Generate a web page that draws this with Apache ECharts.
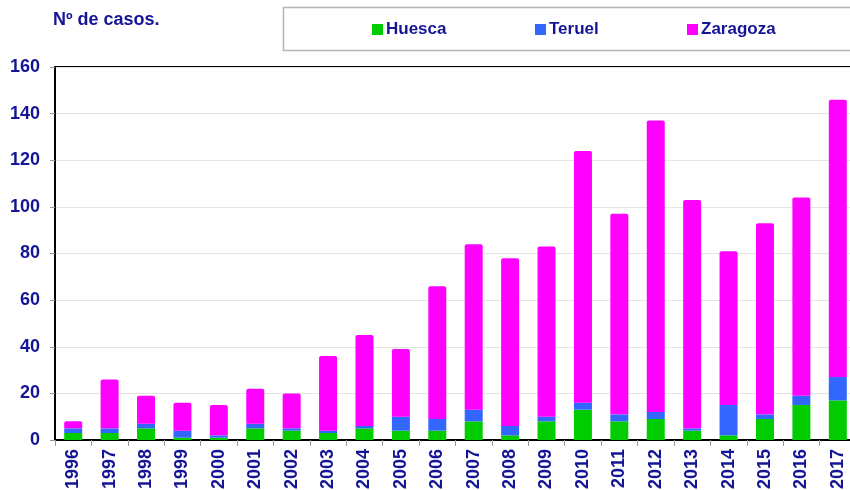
<!DOCTYPE html>
<html>
<head>
<meta charset="utf-8">
<script src="https://cdn.jsdelivr.net/npm/echarts@6/dist/echarts.min.js"></script>
<style>html,body{margin:0;padding:0;background:#fff}#c{width:850px;height:490px}</style>
</head>
<body>
<div id="c"></div>
<script>
var years = ['1996','1997','1998','1999','2000','2001','2002','2003','2004','2005','2006','2007','2008','2009','2010','2011','2012','2013','2014','2015','2016','2017'];
var huesca = [3,3,5,1,1,5,4,3,5,4,4,8,2,8,13,8,9,4,2,9,15,17];
var teruel = [2,2,2,3,1,2,1,1,1,6,5,5,4,2,3,3,3,1,13,2,4,10];
var zaragoza = [3,21,12,12,13,15,15,32,39,29,57,71,72,73,108,86,125,98,66,82,85,119];
var yTicks = [0,20,40,60,80,100,120,140,160];

var navy = '#141496';
var font = 'Liberation Sans, Arial, sans-serif';
var chart = echarts.init(document.getElementById('c'));

function leg(name, left) {
  return {
    data: [name], left: left, top: 21, padding: 0, itemWidth: 11, itemHeight: 11, icon: 'rect',
    selectedMode: false,
    textStyle: {color: navy, fontWeight: 'bold', fontSize: 17, fontFamily: font, padding: [0,0,0,-2]}
  };
}

chart.setOption({
  animation: false,
  title: {text: 'Nº de casos.', left: 53, top: 11, padding: 0,
    textStyle: {color: navy, fontWeight: 'bold', fontSize: 18, fontFamily: font}},
  legend: [leg('Huesca', 372), leg('Teruel', 535), leg('Zaragoza', 687)],
  graphic: [{type: 'rect', shape: {x: 283.5, y: 7.5, width: 620, height: 43},
    style: {fill: 'none', stroke: '#b4b4b4', lineWidth: 1.5}, silent: true}],
  grid: {left: 55, top: 67, width: 801, height: 373, outerBoundsMode: 'none', containLabel: false,
    show: true, borderColor: '#000', borderWidth: 2},
  xAxis: {
    type: 'category', data: years,
    axisLine: {lineStyle: {color: '#000', width: 2}},
    axisTick: {show: true, length: 6, lineStyle: {color: '#999'}},
    axisLabel: {rotate: 90, color: navy, fontWeight: 'bold', fontSize: 18, fontFamily: font, margin: 9, interval: 0}
  },
  yAxis: {
    type: 'value', min: yTicks[0], max: yTicks[yTicks.length-1], interval: 20,
    axisLine: {show: true, lineStyle: {color: '#000', width: 2}},
    axisTick: {show: true, length: 5, lineStyle: {color: '#999'}},
    splitLine: {lineStyle: {color: '#e4e4e4', width: 1}},
    axisLabel: {color: navy, fontWeight: 'bold', fontSize: 18, fontFamily: font, margin: 15}
  },
  series: [
    {name: 'Huesca', type: 'bar', stack: 't', data: huesca, barWidth: 18, itemStyle: {color: '#00CC00'}},
    {name: 'Teruel', type: 'bar', stack: 't', data: teruel, barWidth: 18, itemStyle: {color: '#3366FF'}},
    {name: 'Zaragoza', type: 'bar', stack: 't', data: zaragoza, barWidth: 18, itemStyle: {color: '#FF00FF', borderRadius: [2,2,0,0]}}
  ]
});
</script>
</body>
</html>
